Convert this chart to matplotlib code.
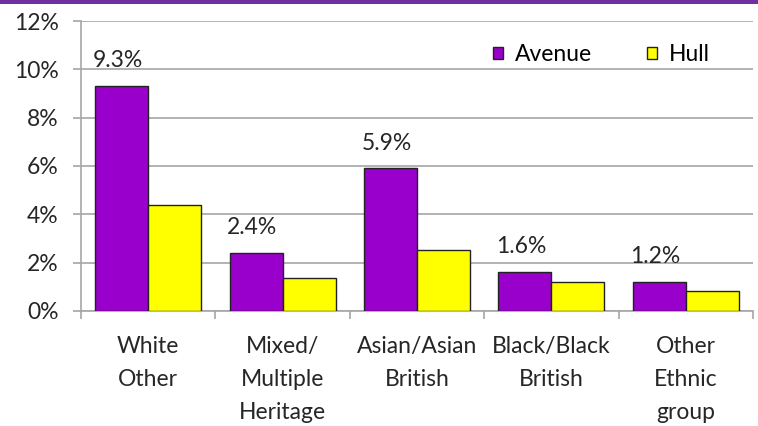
import matplotlib.pyplot as plt
from matplotlib.patches import Rectangle
import numpy as np

# Ethnicity breakdown, Avenue ward vs Hull (% of population)
categories = ['White\nOther', 'Mixed/\nMultiple\nHeritage', 'Asian/Asian\nBritish',
              'Black/Black\nBritish', 'Other\nEthnic\ngroup']
avenue = [9.3, 2.4, 5.9, 1.6, 1.2]
hull = [4.4, 1.37, 2.52, 1.2, 0.83]
avenue_labels = ['9.3%', '2.4%', '5.9%', '1.6%', '1.2%']

plt.rcParams['font.family'] = ['Lato', 'DejaVu Sans']
fs = 16.5
txt = '#262626'

fig = plt.figure(figsize=(7.58, 4.26), dpi=100)
ax = fig.add_axes([0.1069, 0.2700, 0.8865, 0.6807])

# purple band along the top edge
fig.patches.append(Rectangle((0, 0.99), 1, 0.01, transform=fig.transFigure,
                             facecolor='#7030A0', edgecolor='none'))

x = np.arange(len(categories))
w = 0.395
ax.bar(x - w/2, avenue, w, color='#9900CC', edgecolor='#222222', linewidth=1, label='Avenue', zorder=3)
ax.bar(x + w/2, hull, w, color='#FFFF00', edgecolor='#222222', linewidth=1, label='Hull', zorder=3)

for xi, v, s in zip(x, avenue, avenue_labels):
    ax.text(xi - w/2 - 0.03, v + 1.05, s, ha='center', va='center', fontsize=fs, color=txt)

ax.set_xlim(-0.5, len(categories) - 0.5)
ax.set_ylim(0, 12)
ax.set_yticks(np.arange(0, 13, 2))
ax.set_yticklabels(['{}%'.format(t) for t in range(0, 13, 2)])
ax.yaxis.grid(True, color='#A6A6A6', linewidth=1.2, zorder=0)
ax.set_axisbelow(True)

ax.set_xticks(x)
ax.set_xticklabels(categories, fontsize=fs, color=txt, linespacing=1.7, va='top')
ax.set_xticks(np.arange(-0.5, len(categories)), minor=True)
ax.tick_params(axis='x', which='major', length=0, pad=18)
ax.tick_params(axis='x', which='minor', length=6, color='#A6A6A6', width=1.2)
ax.tick_params(axis='y', length=6, color='#A6A6A6', width=1.2, labelsize=fs, labelcolor=txt, pad=10)

for side in ['top', 'right']:
    ax.spines[side].set_visible(False)
for side in ['left', 'bottom']:
    ax.spines[side].set_color('#A6A6A6')
    ax.spines[side].set_linewidth(1.2)

ax.legend(loc='center left', bbox_to_anchor=(0.613, 0.885), ncol=2, frameon=False,
          fontsize=fs, handlelength=0.45, handleheight=0.45, handletextpad=0.5,
          columnspacing=2.4, borderaxespad=0, borderpad=0)

plt.savefig('out.png', dpi=100)
plt.close()
